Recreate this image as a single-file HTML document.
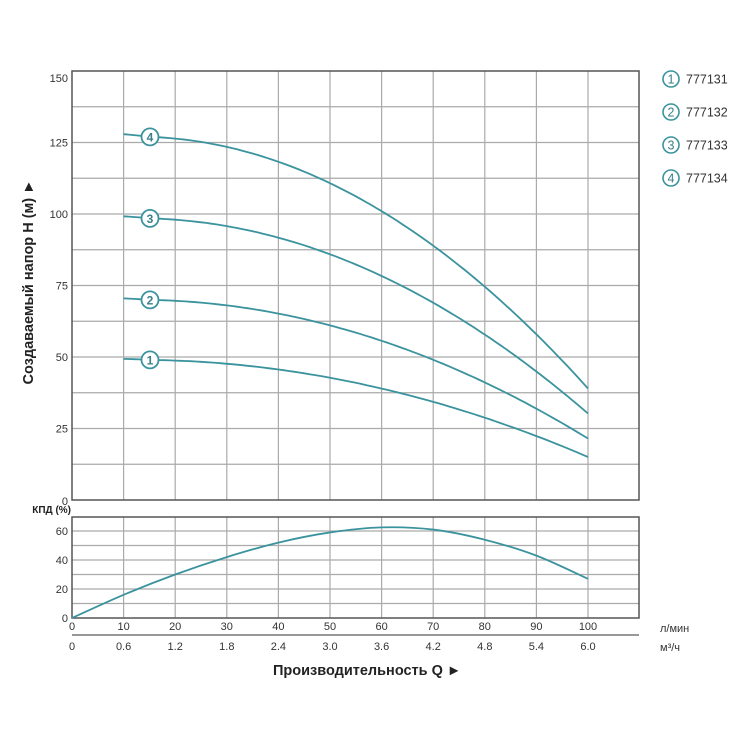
<!DOCTYPE html>
<html><head><meta charset="utf-8"><style>
body{margin:0;background:#fff;}
svg text{font-family:"Liberation Sans",Arial,sans-serif;fill:#333;}
</style></head><body>
<svg id="s" width="750" height="750" xmlns="http://www.w3.org/2000/svg">
<rect width="750" height="750" fill="#fff"/>
<g id="grid" stroke="#aaa" stroke-width="1.2"></g>
<g id="lbl" font-size="11"></g>
<rect x="72" y="71" width="567" height="429" fill="none" stroke="#555" stroke-width="1.5"/>
<rect x="72" y="517" width="567" height="101" fill="none" stroke="#555" stroke-width="1.5"/>
<line x1="72" y1="635" x2="639" y2="635" stroke="#777" stroke-width="1.5"/>
<g id="curves" fill="none" stroke="#3b939e" stroke-width="1.8"></g>
<g id="marks"></g>
<text x="71" y="513" font-size="10" font-weight="bold" text-anchor="end" style="fill:#222">КПД (%)</text>
<text x="660" y="632" font-size="11">л/мин</text>
<text x="660" y="651" font-size="11">м³/ч</text>
<text x="273" y="675" font-size="14.5" font-weight="bold" style="fill:#222">Производительность Q ►</text>
<text transform="translate(33,282) rotate(-90)" font-size="14.5" font-weight="bold" text-anchor="middle" style="fill:#222">Создаваемый напор Н (м) ►</text>
<g id="leg" font-size="12.5"></g>
</svg>
<script>
const NS="http://www.w3.org/2000/svg";
function el(p,t,a,txt){const e=document.createElementNS(NS,t);for(const k in a)e.setAttribute(k,a[k]);if(txt!==undefined)e.textContent=txt;document.getElementById(p).appendChild(e);return e;}
const X=q=>72+q*5.16;
const Y=h=>500-h*2.86;
const YE=e=>618-e*1.45;
for(let i=1;i<=10;i++){el('grid','line',{x1:X(i*10),y1:71,x2:X(i*10),y2:500});el('grid','line',{x1:X(i*10),y1:517,x2:X(i*10),y2:618});}
for(let i=1;i<12;i++){const y=Y(i*12.5);el('grid','line',{x1:72,y1:y,x2:639,y2:y});}
for(let i=1;i<7;i++){const y=YE(i*10);el('grid','line',{x1:72,y1:y,x2:639,y2:y});}
[0,25,50,75,100,125,150].forEach(v=>{let y=Y(v)+4;if(v==150)y=82;if(v==0)y=505;el('lbl','text',{x:68,y:y,'text-anchor':'end'},v);});
[0,20,40,60].forEach(v=>el('lbl','text',{x:68,y:YE(v)+4,'text-anchor':'end'},v));
const m3=['0','0.6','1.2','1.8','2.4','3.0','3.6','4.2','4.8','5.4','6.0'];
for(let i=0;i<=10;i++){el('lbl','text',{x:X(i*10),y:630,'text-anchor':'middle'},i*10);el('lbl','text',{x:X(i*10),y:650,'text-anchor':'middle'},m3[i]);}
const H=q=>125.33+0.2811*q-0.011444*q*q;
const f=[49/127,70/127,98.5/127,1];
f.forEach((s,k)=>{let d='';for(let q=10;q<=100;q+=1){let h=H(q)*s; if(q<15) h+= (15-q)*0.12*s*1.5; d+=(q==10?'M':'L')+X(q).toFixed(1)+','+Y(h).toFixed(1);}el('curves','path',{d:d});
 const cy=Y(H(15.2)*s);el('marks','circle',{cx:150,cy:cy,r:8.5,fill:'#fff',stroke:'#3b939e','stroke-width':1.8});
 el('marks','text',{x:150,y:cy+4.5,'text-anchor':'middle','font-size':12,'font-weight':'bold',style:'fill:#3a7f8a'},k+1);});
const P=[[0,0],[10,16],[20,30],[30,42],[40,52],[50,59],[60,62.5],[70,61],[80,54],[90,43],[100,27]].map(p=>[X(p[0]),YE(p[1])]);
let d='M'+P[0][0]+','+P[0][1];
for(let i=0;i<P.length-1;i++){const p0=P[Math.max(i-1,0)],p1=P[i],p2=P[i+1],p3=P[Math.min(i+2,P.length-1)];
d+=`C${p1[0]+(p2[0]-p0[0])/6},${p1[1]+(p2[1]-p0[1])/6} ${p2[0]-(p3[0]-p1[0])/6},${p2[1]-(p3[1]-p1[1])/6} ${p2[0]},${p2[1]}`;}
el('curves','path',{d:d});
['777131','777132','777133','777134'].forEach((t,i)=>{const y=79+i*33;el('leg','circle',{cx:671,cy:y,r:8,fill:'#fff',stroke:'#3b939e','stroke-width':1.6});
el('leg','text',{x:671,y:y+4.5,'text-anchor':'middle','font-size':12.5,style:'fill:#3a7f8a'},i+1);
el('leg','text',{x:686,y:y+4.5},t);});
</script>
</body></html>
